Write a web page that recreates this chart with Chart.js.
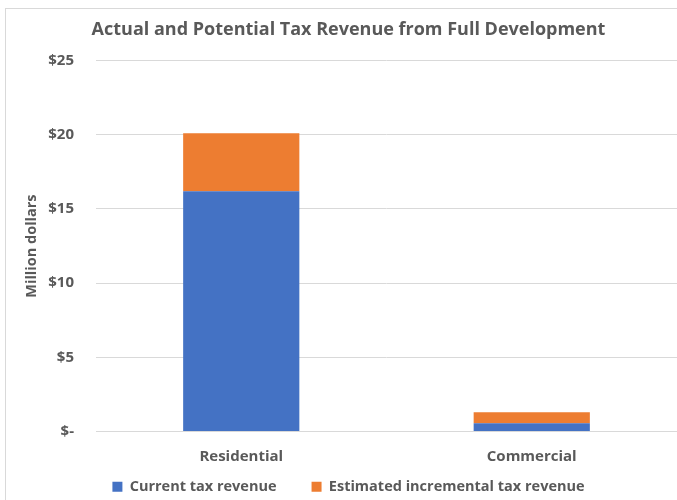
<!DOCTYPE html>
<html>
<head>
<meta charset="utf-8">
<script src="https://cdn.jsdelivr.net/npm/chart.js@4.4.0/dist/chart.umd.min.js"></script>
<style>
  html, body { margin: 0; padding: 0; background: #fff; overflow: hidden; }
  #frame { position: absolute; left: 5px; top: 8px; width: 700px; height: 520px; border: 1px solid #d9d9d9; }
  #wrap { position: absolute; left: 0; top: 0; width: 677px; height: 504px; }
</style>
</head>
<body>
<div id="frame"></div>
<div id="wrap"><canvas id="chart"></canvas></div>
<script>
// values in million dollars
var categories = ["Residential", "Commercial"];
var currentRevenue = [16.2, 0.55];
var incrementalRevenue = [3.9, 0.75];
var yTicks = [0, 5, 10, 15, 20, 25];

var grey = '#595959';
var font = "'Open Sans', sans-serif";

var ctx = document.getElementById("chart").getContext('2d');
var myChart = new Chart(ctx, {
  type: 'bar',
  data: {
    labels: categories,
    datasets: [{
      label: 'Current tax revenue',
      data: currentRevenue,
      backgroundColor: '#4472C4',
      barPercentage: 0.4,
      categoryPercentage: 1
    }, {
      label: 'Estimated incremental tax revenue',
      data: incrementalRevenue,
      backgroundColor: '#ED7D31',
      barPercentage: 0.4,
      categoryPercentage: 1
    }]
  },
  options: {
    responsive: true,
    maintainAspectRatio: false,
    animation: false,
    layout: { padding: { top: 19, left: 20, right: 0, bottom: 0 } },
    plugins: {
      title: {
        display: true,
        text: 'Actual and Potential Tax Revenue from Full Development',
        color: grey,
        font: { family: font, size: 18, weight: 'bold' },
        padding: { top: 0, bottom: 20 }
      },
      legend: {
        position: 'bottom',
        labels: {
          color: grey,
          font: { family: font, size: 14.5, weight: 'bold' },
          boxWidth: 10,
          boxHeight: 10,
          padding: 6,
          generateLabels: function (chart) {
            var items = Chart.defaults.plugins.legend.labels.generateLabels(chart);
            // extra room between the two legend entries
            items[0].text = items[0].text + '\u2003\u2003';
            return items;
          }
        }
      },
      tooltip: { enabled: false }
    },
    scales: {
      x: {
        stacked: true,
        grid: { display: false },
        border: { color: '#d9d9d9' },
        ticks: { color: grey, font: { family: font, size: 15, weight: 'bold' }, padding: 8 }
      },
      y: {
        stacked: true,
        min: 0,
        max: 25,
        afterBuildTicks: function (scale) {
          scale.ticks = yTicks.map(function (v) { return { value: v }; });
        },
        afterFit: function (scale) { scale.width = 76; },
        grid: { color: '#d9d9d9', drawTicks: false },
        border: { display: false },
        ticks: {
          color: grey,
          font: { family: font, size: 15, weight: 'bold' },
          padding: 22,
          callback: function (v) { return v === 0 ? '$-' : '$' + v; }
        },
        title: {
          display: true,
          text: 'Million dollars',
          color: grey,
          font: { family: font, size: 14.5, weight: 'bold' },
          padding: 3
        }
      }
    }
  }
});
</script>
</body>
</html>
